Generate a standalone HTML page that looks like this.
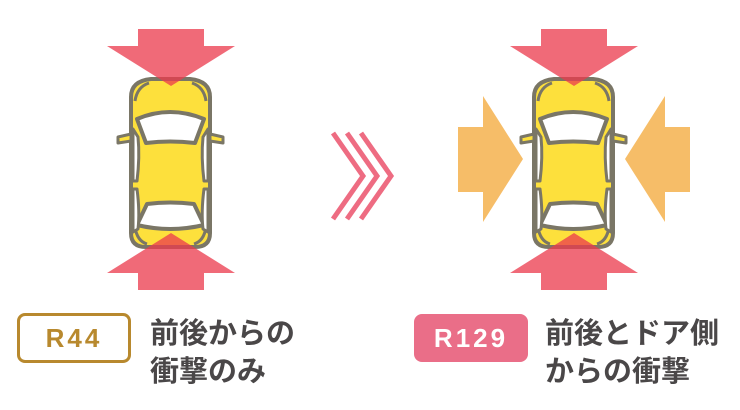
<!DOCTYPE html>
<html><head><meta charset="utf-8"><style>
body{margin:0;width:740px;height:410px;background:#fff;overflow:hidden;position:relative;font-family:"Liberation Sans","Noto Sans CJK JP",sans-serif}
.box{position:absolute;box-sizing:border-box;border-radius:8px;font-weight:bold;font-size:26px;letter-spacing:3px;text-align:center}
.t{position:absolute;font-size:29px;font-weight:bold;color:#4a4748;line-height:38px;font-family:"Noto Sans CJK JP",sans-serif}
</style></head><body>
<svg width="740" height="300" style="position:absolute;left:0;top:0">
<defs>
<g id="car">
<path d="M4,20 Q4,4 24,2 L63,2 Q83,4 83,20 L83,156 Q83,170 68,170 L19,170 Q4,170 4,156 Z" fill="#fde03c" stroke="#7a7666" stroke-width="4"/>
<path d="M8,24 Q10,10 22,6 M79,24 Q77,10 65,6 M8,150 Q10,164 20,167 M79,150 Q77,164 67,167" fill="none" stroke="#7a7666" stroke-width="3"/>
<path d="M10,42 Q43,28 77,42 L68,66 Q43,63 19,66 Z" fill="#fff" stroke="#7a7666" stroke-width="4" stroke-linejoin="round"/>
<path d="M20,127 Q43,124 67,127 L77,148 Q43,156 10,148 Z" fill="#fff" stroke="#7a7666" stroke-width="4" stroke-linejoin="round"/>
<path d="M6,52 L11,60 Q13,80 10,104 L6,104 Z M81,52 L76,60 Q74,80 77,104 L81,104 Z" fill="#fff" stroke="#7a7666" stroke-width="3" stroke-linejoin="round"/>
<path d="M6,112 L10,112 Q13,135 11,152 L6,155 Z M81,112 L77,112 Q74,135 76,152 L81,155 Z" fill="#fff" stroke="#7a7666" stroke-width="3" stroke-linejoin="round"/>
<path d="M4,57 L-9,60 L-9,66 L4,64 Z M83,57 L96,60 L96,66 L83,64 Z" fill="#fde03c" stroke="#7a7666" stroke-width="3" stroke-linejoin="round"/>
</g>
<g id="vt" fill="#eb3b4e" opacity="0.76">
<path d="M-33,0 H33 V17 H64 L0,57 L-64,17 H-33 Z"/>
</g>
<g id="vb" fill="#eb3b4e" opacity="0.76">
<path d="M-33,0 H33 V-17 H64 L0,-57 L-64,-17 H-33 Z"/>
</g>
</defs>
<use href="#car" x="127" y="77"/>
<use href="#vt" x="171" y="29"/>
<use href="#vb" x="171" y="290"/>
<use href="#car" x="530" y="77"/>
<use href="#vt" x="574" y="29"/>
<use href="#vb" x="574" y="290"/>
<path d="M458,127 H483 V96 L523,159 L483,222 V192 H458 Z" fill="#f4b24e" opacity="0.85"/>
<path d="M690,127 H665 V96 L625,159 L665,222 V192 H690 Z" fill="#f4b24e" opacity="0.85"/>
<g fill="none" stroke="#ee6c82" stroke-width="5">
<path d="M333,133 L363,176 L333,219"/>
<path d="M347,133 L377,176 L347,219"/>
<path d="M361,133 L391,176 L361,219"/>
</g>
</svg>
<div class="box" style="left:17px;top:313px;width:114px;height:50px;border:3px solid #b8892e;color:#b8892e;line-height:44px">R44</div>
<div class="t" style="left:150px;top:312px">前後からの<br>衝撃のみ</div>
<div class="box" style="left:414px;top:314px;width:114px;height:48px;background:#ea6e88;color:#fff;line-height:48px">R129</div>
<div class="t" style="left:545px;top:312px">前後とドア側<br>からの衝撃</div>
</body></html>
